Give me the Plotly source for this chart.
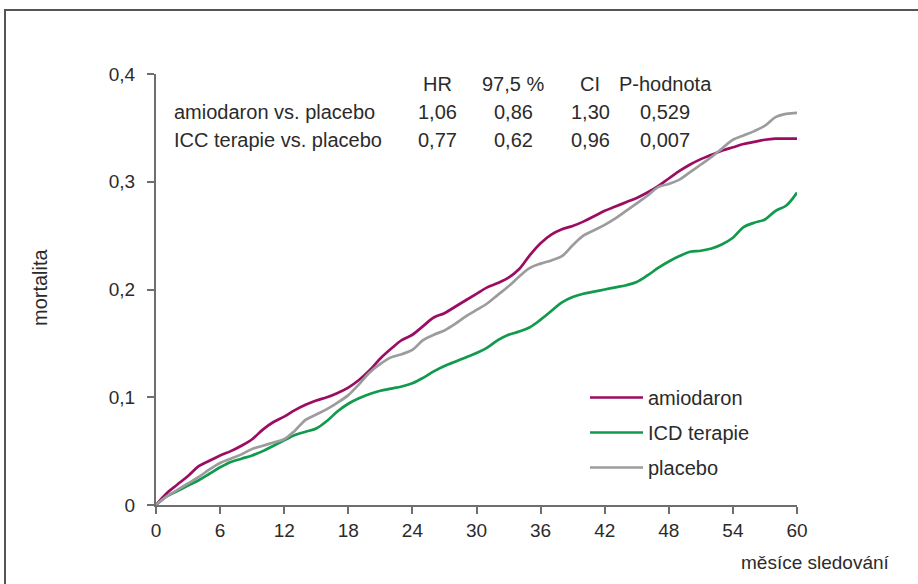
import plotly.graph_objects as go

months = list(range(0, 61))

amiodaron = [0, 0.011, 0.019, 0.027, 0.036, 0.041, 0.046, 0.050, 0.055, 0.061,
             0.070, 0.077, 0.082, 0.088, 0.093, 0.097, 0.100, 0.104, 0.109, 0.116,
             0.125, 0.136, 0.145, 0.153, 0.158, 0.166, 0.174, 0.178, 0.184, 0.190,
             0.196, 0.202, 0.206, 0.211, 0.219, 0.232, 0.243, 0.251, 0.256, 0.259,
             0.263, 0.268, 0.273, 0.277, 0.281, 0.285, 0.290, 0.296, 0.303, 0.310,
             0.316, 0.321, 0.325, 0.329, 0.332, 0.335, 0.337, 0.339, 0.340, 0.340,
             0.340]

icd = [0, 0.008, 0.013, 0.018, 0.023, 0.029, 0.035, 0.040, 0.043, 0.046,
       0.050, 0.055, 0.060, 0.065, 0.068, 0.071, 0.078, 0.087, 0.094, 0.099,
       0.103, 0.106, 0.108, 0.110, 0.113, 0.118, 0.124, 0.129, 0.133, 0.137,
       0.141, 0.146, 0.153, 0.158, 0.161, 0.165, 0.172, 0.180, 0.188, 0.193,
       0.196, 0.198, 0.200, 0.202, 0.204, 0.207, 0.213, 0.220, 0.226, 0.231,
       0.235, 0.236, 0.238, 0.242, 0.248, 0.258, 0.262, 0.265, 0.273, 0.278,
       0.290]

placebo = [0, 0.008, 0.014, 0.020, 0.026, 0.033, 0.039, 0.043, 0.047, 0.052,
           0.055, 0.058, 0.061, 0.069, 0.079, 0.084, 0.089, 0.095, 0.102, 0.112,
           0.123, 0.131, 0.137, 0.140, 0.144, 0.153, 0.158, 0.162, 0.168, 0.175,
           0.181, 0.187, 0.195, 0.203, 0.212, 0.220, 0.224, 0.227, 0.231, 0.241,
           0.250, 0.255, 0.260, 0.266, 0.273, 0.280, 0.287, 0.295, 0.298, 0.302,
           0.309, 0.316, 0.323, 0.331, 0.339, 0.343, 0.347, 0.352, 0.360, 0.363,
           0.364]

series_names = ["amiodaron", "ICD terapie", "placebo"]
series_colors = ["#9b0d62", "#0f9a4c", "#9c9c9e"]

x_ticks = [0, 6, 12, 18, 24, 30, 36, 42, 48, 54, 60]
y_ticks = [0, 0.1, 0.2, 0.3, 0.4]
y_tick_labels = ["0", "0,1", "0,2", "0,3", "0,4"]

table_header = ["HR", "97,5 %", "CI", "P-hodnota"]
table_rows = ["amiodaron vs. placebo", "ICC terapie vs. placebo"]
table_values = [["1,06", "0,86", "1,30", "0,529"],
                ["0,77", "0,62", "0,96", "0,007"]]

FONT = "Liberation Sans"
TXT = "#2b2b2b"
AX = "#6e6e6e"

fig = go.Figure()
for i, (name, ys) in enumerate(zip(series_names, [amiodaron, icd, placebo])):
    fig.add_trace(go.Scatter(
        x=months, y=ys, mode="lines", name=name,
        legendgroup=name,
        line=dict(color=series_colors[i], width=2.7, shape="spline", smoothing=1.0),
    ))

L, R, T, B = 156, 121, 74, 79
W, H = 918, 584
pw, ph = W - L - R, H - T - B

def px(xp):
    return (xp - L) / pw

def py(yp):
    return (H - B - yp) / ph

annotations = []
col_x = [437, 513, 590, 665]
row_y = [84, 112, 140]
for cx, t in zip(col_x, table_header):
    annotations.append(dict(x=px(cx), y=py(row_y[0]), xref="paper", yref="paper",
                            text=t, showarrow=False, xanchor="center", yanchor="middle",
                            font=dict(family=FONT, size=20, color=TXT)))
for r, (lab, vals) in enumerate(zip(table_rows, table_values)):
    yy = py(row_y[r + 1])
    annotations.append(dict(x=px(172), y=yy, xref="paper", yref="paper",
                            text=lab, showarrow=False, xanchor="left", yanchor="middle",
                            font=dict(family=FONT, size=20, color=TXT)))
    for cx, v in zip(col_x, vals):
        annotations.append(dict(x=px(cx), y=yy, xref="paper", yref="paper",
                                text=v, showarrow=False, xanchor="center", yanchor="middle",
                                font=dict(family=FONT, size=20, color=TXT)))

annotations.append(dict(x=px(40), y=py(287), xref="paper", yref="paper",
                        text="mortalita", textangle=-90, showarrow=False,
                        xanchor="center", yanchor="middle",
                        font=dict(family=FONT, size=20, color=TXT)))
annotations.append(dict(x=px(815), y=py(562), xref="paper", yref="paper",
                        text="měsíce sledování", showarrow=False,
                        xanchor="center", yanchor="middle",
                        font=dict(family=FONT, size=19, color=TXT)))

shapes = [
    dict(type="line", xref="paper", yref="paper", x0=px(4), x1=px(918), y0=py(10), y1=py(10),
         line=dict(color="#555555", width=2)),
    dict(type="line", xref="paper", yref="paper", x0=px(5), x1=px(5), y0=py(10), y1=py(584),
         line=dict(color="#555555", width=2)),
]

fig.update_layout(
    width=W, height=H,
    margin=dict(l=L, r=R, t=T, b=B, pad=0),
    paper_bgcolor="white", plot_bgcolor="white",
    font=dict(family=FONT, size=19, color=TXT),
    showlegend=True,
    legend=dict(x=px(585), y=py(378), xanchor="left", yanchor="top",
                font=dict(family=FONT, size=20, color=TXT),
                bgcolor="rgba(0,0,0,0)", tracegroupgap=6, itemwidth=53,
                traceorder="grouped"),
    annotations=annotations,
    shapes=shapes,
    xaxis=dict(range=[0, 60], tickvals=x_ticks, ticks="outside", ticklen=7, tickwidth=1.5,
               tickcolor=AX, showline=True, linecolor=AX, linewidth=2, showgrid=False,
               zeroline=False, tickfont=dict(family=FONT, size=19, color=TXT), fixedrange=True),
    yaxis=dict(range=[0, 0.4], tickvals=y_ticks, ticktext=y_tick_labels, ticks="outside",
               ticklen=7, tickwidth=1.5, tickcolor=AX, showline=True, linecolor=AX, linewidth=2,
               showgrid=False, zeroline=False, ticklabelstandoff=8,
               tickfont=dict(family=FONT, size=19, color=TXT), fixedrange=True),
)

fig.write_html("out.html", config={"displayModeBar": False},
               post_script="document.body.style.margin='0px';")
